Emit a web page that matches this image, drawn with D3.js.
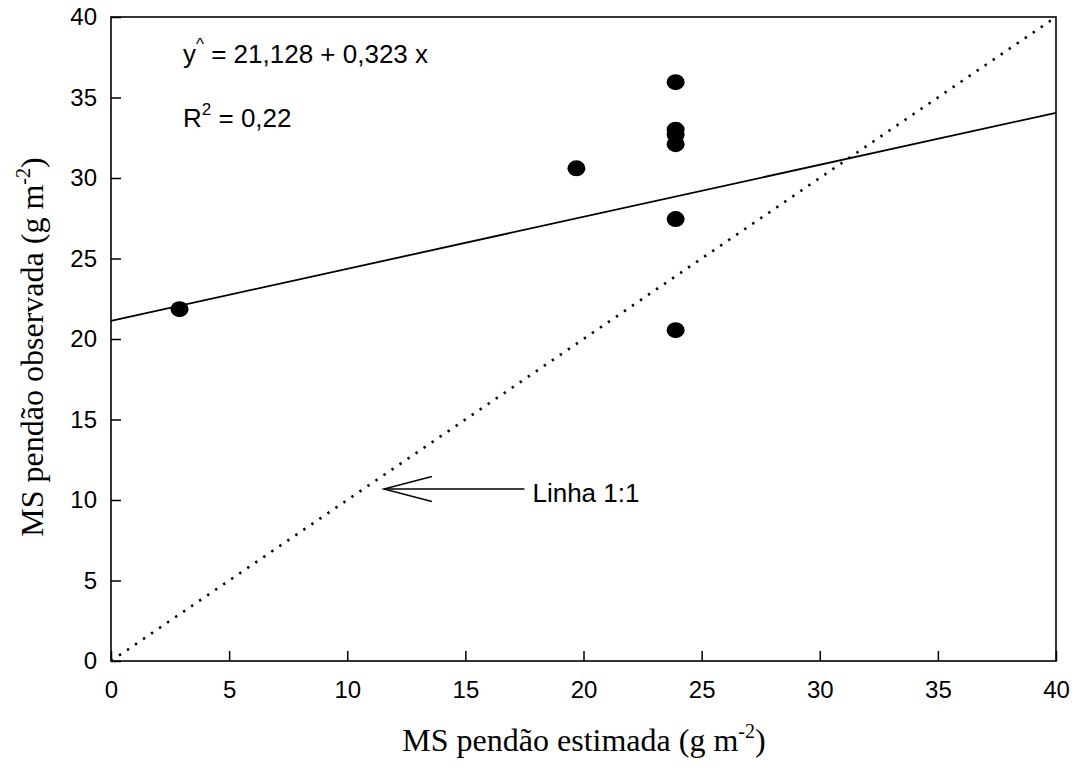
<!DOCTYPE html>
<html>
<head>
<meta charset="utf-8">
<script src="https://cdn.jsdelivr.net/npm/d3@7"></script>
<style>
body{margin:0;background:#fff;}
</style>
</head>
<body>
<svg id="chart" width="1077" height="772"></svg>
<script>
// dados
var xTicks = [0,5,10,15,20,25,30,35,40];
var yTicks = [0,5,10,15,20,25,30,35,40];
var estimada = [2.9, 19.7, 23.9, 23.9, 23.9, 23.9, 23.9, 23.9];
var observada = [21.85, 30.6, 35.95, 33.0, 32.7, 32.1, 27.45, 20.55];
var coefA = 21.128, coefB = 0.323;
var linha11 = [0, 40];
var seta = {from:[17.5, 10.68], to:[11.55, 10.68]};

var svg = d3.select("#chart");
var mLeft=111, mRight=1056, mTop=17, mBottom=661;

var x = d3.scaleLinear().domain([0,40]).range([mLeft,mRight]);
var y = d3.scaleLinear().domain([0,40]).range([mBottom,mTop]);

// moldura
svg.append("rect").attr("x",mLeft).attr("y",mTop).attr("width",mRight-mLeft).attr("height",mBottom-mTop)
    .style("fill","none").style("stroke","#000").style("stroke-width",1.6);

var xAxis = d3.axisBottom(x).tickValues(xTicks).tickSizeInner(-10).tickSizeOuter(0).tickPadding(20);
var gx = svg.append("g").attr("transform","translate(0,"+mBottom+")").call(xAxis);
gx.select(".domain").remove();
gx.selectAll("line").style("stroke-width",1.5);
gx.selectAll("text").style("font-family","Liberation Sans, Arial").style("font-size","24px").attr("fill","#000");

var yAxis = d3.axisLeft(y).tickValues(yTicks).tickSizeInner(-10).tickSizeOuter(0).tickPadding(14);
var gy = svg.append("g").attr("transform","translate("+mLeft+",0)").call(yAxis);
gy.select(".domain").remove();
gy.selectAll("line").style("stroke-width",1.5);
gy.selectAll("text").style("font-family","Liberation Sans, Arial").style("font-size","24px").attr("fill","#000");

// linha 1:1 pontilhada
svg.append("line").attr("x1",x(linha11[0])).attr("y1",y(linha11[0])).attr("x2",x(linha11[1])).attr("y2",y(linha11[1]))
    .style("stroke","#000").style("stroke-width",2.6).style("stroke-dasharray","2.4,7.3");

// regressao
svg.append("line").attr("x1",x(0)).attr("y1",y(coefA)).attr("x2",x(40)).attr("y2",y(coefA+coefB*40))
    .style("stroke","#000").style("stroke-width",1.8);

// pontos
svg.selectAll("ellipse.pt").data(estimada).enter().append("ellipse").attr("class","pt")
    .attr("cx",function(d){return x(d);})
    .attr("cy",function(d,i){return y(observada[i]);})
    .attr("rx",9).attr("ry",8).style("fill","#000");

// seta
var ax1=x(seta.from[0]), ay=y(seta.from[1]), ax2=x(seta.to[0]);
svg.append("line").attr("x1",ax1).attr("y1",ay).attr("x2",ax2).attr("y2",ay).style("stroke","#000").style("stroke-width",1.4);
svg.append("polyline").attr("points",(ax2+48)+","+(ay-12.5)+" "+ax2+","+ay+" "+(ax2+48)+","+(ay+12.5))
    .style("fill","none").style("stroke","#000").style("stroke-width",1.4);
svg.append("text").attr("x",ax1+8).attr("y",ay+13).text("Linha 1:1")
    .style("font-family","Liberation Sans, Arial").style("font-size","26px");

// equacao
var eq = svg.append("text").attr("x",183).attr("y",63).style("font-family","Liberation Sans, Arial").style("font-size","26px");
eq.append("tspan").text("y");
eq.append("tspan").attr("dy",-13).style("font-size","17px").text("^");
eq.append("tspan").attr("dy",13).text(" = 21,128 + 0,323 x");

var r2 = svg.append("text").attr("x",183).attr("y",127).style("font-family","Liberation Sans, Arial").style("font-size","26px");
r2.append("tspan").text("R");
r2.append("tspan").attr("dy",-12).style("font-size","17px").text("2");
r2.append("tspan").attr("dy",12).text(" = 0,22");

// titulos
var tx = svg.append("text").attr("x",584).attr("y",751).attr("text-anchor","middle")
    .style("font-family","Liberation Serif, Times New Roman").style("font-size","32px");
tx.append("tspan").text("MS pendão estimada (g m");
tx.append("tspan").attr("dy",-13).style("font-size","20px").text("-2");
tx.append("tspan").attr("dy",13).text(")");

var ty = svg.append("text").attr("transform","translate(43,347) rotate(-90)").attr("text-anchor","middle")
    .style("font-family","Liberation Serif, Times New Roman").style("font-size","32px");
ty.append("tspan").text("MS pendão observada (g m");
ty.append("tspan").attr("dy",-13).style("font-size","20px").text("-2");
ty.append("tspan").attr("dy",13).text(")");
</script>
</body>
</html>
